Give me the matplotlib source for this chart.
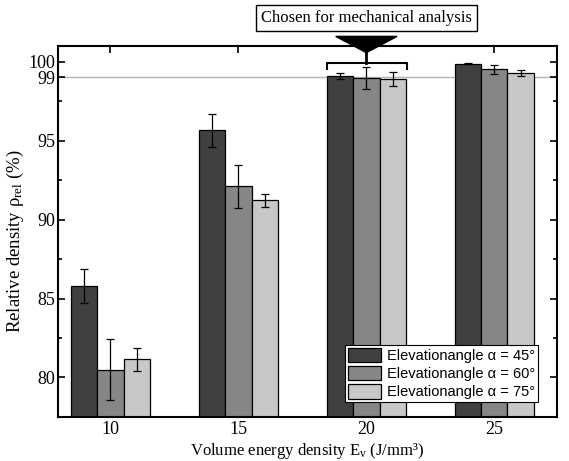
import numpy as np
import matplotlib
matplotlib.use("Agg")
import matplotlib.pyplot as plt
from matplotlib.patches import Polygon
from matplotlib.ticker import MultipleLocator

# 데이터
energy = ["10", "15", "20", "25"]
dens_45 = [85.8, 95.65, 99.09, 99.87]
err_45 = [1.1, 1.05, 0.19, 0.03]
dens_60 = [80.5, 92.1, 98.97, 99.51]
err_60 = [1.95, 1.38, 0.70, 0.30]
dens_75 = [81.15, 91.22, 98.9, 99.28]
err_75 = [0.72, 0.40, 0.42, 0.19]
labels = ["Elevationangle \u03b1 = 45\u00b0",
          "Elevationangle \u03b1 = 60\u00b0",
          "Elevationangle \u03b1 = 75\u00b0"]
colors = ["#404040", "#868686", "#c8c8c8"]

serif = "Liberation Serif"
sans = "Liberation Sans"
plt.rcParams["mathtext.fontset"] = "custom"
plt.rcParams["mathtext.rm"] = serif
plt.rcParams["mathtext.it"] = serif + ":italic"

fig = plt.figure(figsize=(5.69, 4.61), dpi=100)
ax = fig.add_axes([0.102, 0.0955, 0.877, 0.805])

x = np.arange(len(energy))
w = 0.205
series = [(dens_45, err_45), (dens_60, err_60), (dens_75, err_75)]
for i, (vals, errs) in enumerate(series):
    ax.bar(x + (i - 1) * w, vals, w, color=colors[i], edgecolor="black",
           linewidth=0.9, label=labels[i], zorder=2)
    ax.errorbar(x + (i - 1) * w, vals, yerr=errs, fmt="none", ecolor="black",
                elinewidth=0.9, capsize=3, capthick=0.9, zorder=3)

# 99% 기준선
ax.axhline(99, color="#b4b4b4", linewidth=1, zorder=1)

ax.set_xlim(-0.41, 3.49)
ax.set_ylim(77.5, 101)
ax.set_xticks(x)
ax.set_xticklabels(energy, fontfamily=serif, fontsize=13)
ax.set_yticks([80, 85, 90, 95, 99, 100])
ax.set_yticklabels(["80", "85", "90", "95", "99", "100"], fontfamily=serif, fontsize=13)
ax.yaxis.set_minor_locator(MultipleLocator(2.5))
ax.tick_params(which="both", direction="in", top=True, right=True, width=1.2)
ax.tick_params(which="major", length=5, pad=3)
ax.tick_params(which="minor", length=3)
ax.tick_params(axis="y", which="major", pad=2)
for s in ax.spines.values():
    s.set_linewidth(1.5)

ax.set_xlabel("Volume energy density E$_\\mathrm{v}$ (J/mm\u00b3)", fontfamily=serif,
              fontsize=12, labelpad=2)
ax.set_ylabel("Relative density \u03c1$_\\mathrm{rel}$ (%)", fontfamily=serif,
              fontsize=13.5)
ax.yaxis.set_label_coords(-0.065, 0.475)

# 주석: 박스, 삼각형, 괄호
ax.text(2, 102.75, "Chosen for mechanical analysis", ha="center", va="center",
        fontfamily=serif, fontsize=12, clip_on=False,
        bbox=dict(boxstyle="square,pad=0.3", facecolor="white", edgecolor="black",
                  linewidth=1))
tri = Polygon([(1.76, 101.6), (2.24, 101.6), (2.0, 100.57)], closed=True,
              facecolor="black", edgecolor="black", clip_on=False, zorder=5)
ax.add_patch(tri)
ax.plot([2.0, 2.0], [100.57, 99.94], color="black", linewidth=2, zorder=5)
ax.plot([1.69, 1.69, 2.32, 2.32], [99.55, 99.94, 99.94, 99.55], color="black",
        linewidth=1.5, solid_joinstyle="round", zorder=5)

leg = ax.legend(loc="lower right", bbox_to_anchor=(0.962, 0.04), borderaxespad=0,
                prop={"family": sans, "size": 10.5}, handlelength=2.3, handleheight=1.15,
                handletextpad=0.4, labelspacing=0.2, borderpad=0.2, fancybox=False,
                framealpha=1)
leg.get_frame().set_edgecolor("black")
leg.get_frame().set_linewidth(0.8)

fig.savefig("out.png", dpi=100)
